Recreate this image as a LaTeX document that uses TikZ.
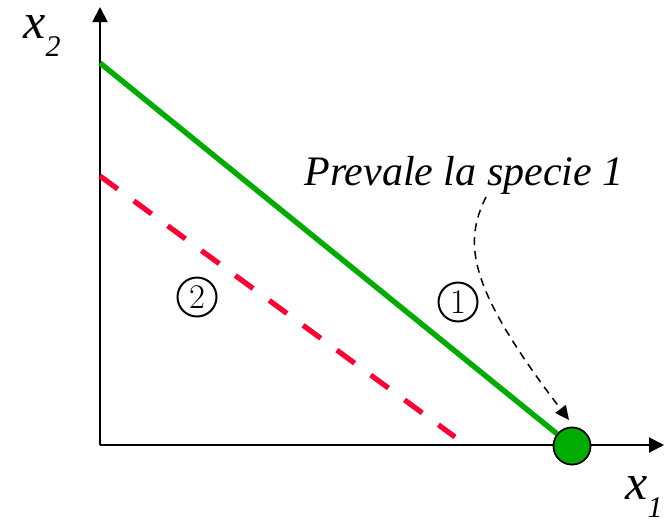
\documentclass[tikz,border=0pt]{standalone}
\usepackage[no-math]{fontspec}
\setmainfont{Liberation Serif}
\usetikzlibrary{arrows.meta}
\definecolor{eqgreen}{RGB}{0,172,0}
\definecolor{lossred}{RGB}{255,0,50}

\begin{document}
\begin{tikzpicture}[x=0.5pt,y=-0.5pt]
  \useasboundingbox (0,0) rectangle (664,527);
  \tikzset{zone/.style={draw,circle,line width=1pt,minimum size=19.5pt,inner sep=0pt,font=\fontsize{17.28}{20}\selectfont}}
  \coordinate (O) at (100,445);
  \coordinate (ytop) at (100,7);
  \coordinate (xend) at (664,445);
  \draw[line width=1pt,-{Triangle[length=7.5pt,width=7.5pt]}] (O) -- (ytop);
  \draw[line width=1pt,-{Triangle[length=7.5pt,width=7.5pt]}] (O) -- (xend);
  \node (lx2) at (42,36) {\fontsize{25}{30}\selectfont\itshape x\raisebox{-0.35em}{\fontsize{15}{18}\selectfont 2}};
  \node (lx1) at (644,497) {\fontsize{25}{30}\selectfont\itshape x\raisebox{-0.35em}{\fontsize{15}{18}\selectfont 1}};
  % isocline of species 2 (red, dashed) and of species 1 (green)
  \coordinate (r0) at (100,176);
  \coordinate (r1) at (455,437);
  \draw[lossred,line width=2.6pt,dash pattern=on 11pt off 10pt] (r0) -- (r1);
  \coordinate (g0) at (100,63);
  \node[circle,fill=eqgreen,draw=black,line width=0.8pt,minimum size=18.5pt,inner sep=0pt] (eq) at (572,446) {};
  \draw[eqgreen,line width=2.7pt] (g0) -- (eq);
  \node[circle,fill=eqgreen,draw=black,line width=0.8pt,minimum size=18.5pt,inner sep=0pt] at (eq) {};
  \node[zone] (z1) at (458,302) {$1$};
  \node[zone] (z2) at (197,297) {$2$};
  \node[anchor=base west,inner sep=0pt,font=\fontsize{21}{25}\selectfont\itshape] (txt) at (304,185) {Prevale la specie 1};
  \coordinate (c0) at (486,197);
  \coordinate (tip) at (569,420);
  \draw[line width=0.75pt,dash pattern=on 4pt off 3pt,-{Triangle[length=7pt,width=6.5pt]}] (c0) .. controls (462,245) and (470,290) .. (tip);
\end{tikzpicture}
\end{document}
